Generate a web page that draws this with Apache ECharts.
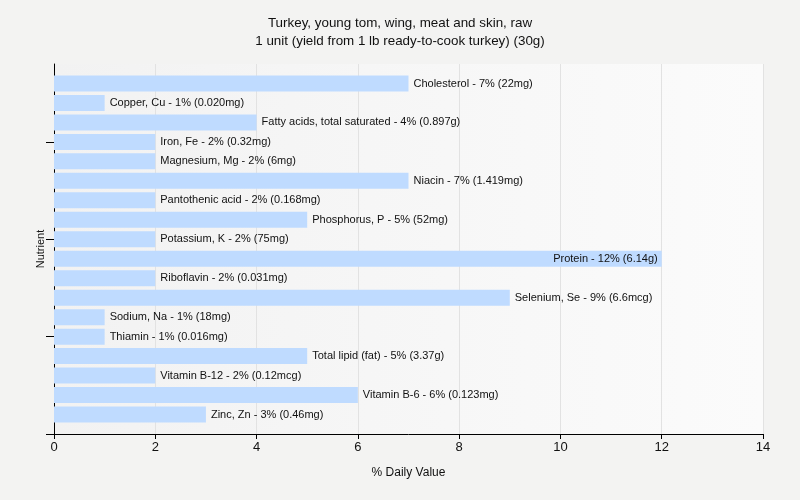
<!DOCTYPE html>
<html>
<head>
<meta charset="utf-8">
<script src="https://cdn.jsdelivr.net/npm/echarts@6/dist/echarts.min.js"></script>
<style>html,body{margin:0;padding:0;background:#F3F3F2;}#c{width:800px;height:500px;}</style>
</head>
<body>
<div id="c"></div>
<script>
const categories = ["Cholesterol","Copper, Cu","Fatty acids, total saturated","Iron, Fe","Magnesium, Mg","Niacin","Pantothenic acid","Phosphorus, P","Potassium, K","Protein","Riboflavin","Selenium, Se","Sodium, Na","Thiamin","Total lipid (fat)","Vitamin B-12","Vitamin B-6","Zinc, Zn"];
const values = [7,1,4,2,2,7,2,5,2,12,2,9,1,1,5,2,6,3];
const amounts = ["22mg","0.020mg","0.897g","0.32mg","6mg","1.419mg","0.168mg","52mg","75mg","6.14g","0.031mg","6.6mcg","18mg","0.016mg","3.37g","0.12mcg","0.123mg","0.46mg"];
const xTicks = [0,2,4,6,8,10,12,14];

const axisCats = [''].concat(categories, ['']);
const maxVal = Math.max(...values);
const seriesData = [null].concat(values.map((v)=>({
  value: v,
  label: v===maxVal ? {position:'insideRight', distance:4} : {}
})), [null]);

const chart = echarts.init(document.getElementById('c'));
const font = 'Liberation Sans, Arial, sans-serif';
chart.setOption({
  backgroundColor: '#F3F3F2',
  animation: false,
  title: {
    text: 'Turkey, young tom, wing, meat and skin, raw\n1 unit (yield from 1 lb ready-to-cook turkey) (30g)',
    left: 'center', top: 9,
    textStyle: {fontFamily: font, fontSize: 13.4, fontWeight: 'normal', color: '#111', lineHeight: 18}
  },
  grid: {
    left: 54, right: 37, top: 64, bottom: 66, show: true, borderWidth: 0,
    backgroundColor: {type:'linear', x:0, y:0, x2:1, y2:0, colorStops:[{offset:0,color:'#F2F2F2'},{offset:1,color:'#FBFBFB'}]}
  },
  xAxis: {
    type: 'value', min: xTicks[0], max: xTicks[xTicks.length-1], interval: 2,
    name: '% Daily Value', nameLocation: 'middle', nameGap: 33,
    nameTextStyle: {fontFamily: font, fontSize: 12, color: '#111'},
    axisLine: {show: true, lineStyle: {color: '#000', width: 1}},
    axisTick: {show: true, length: 5, lineStyle: {color: '#000'}},
    axisLabel: {fontFamily: font, fontSize: 13, color: '#111', margin: 7},
    splitLine: {show: true, lineStyle: {color: '#E2E2E2', width: 1}}
  },
  yAxis: {
    type: 'category', data: axisCats, inverse: true, boundaryGap: false,
    name: 'Nutrient', nameLocation: 'middle', nameGap: 8, nameRotate: 90,
    nameTextStyle: {fontFamily: font, fontSize: 11, color: '#111'},
    axisLine: {show: true, lineStyle: {color: '#000', width: 1}},
    axisTick: {show: true, length: 8, interval: function(i){ return (axisCats.length-1-i)%5===0; }, lineStyle: {color:'#000'}},
    axisLabel: {show: false},
    splitLine: {show: false}
  },
  series: [{
    type: 'bar',
    data: seriesData,
    barWidth: 16,
    itemStyle: {color: '#BFDBFF'},
    label: {
      show: true, position: 'right', distance: 5,
      fontFamily: font, fontSize: 11, color: '#111',
      formatter: function(p){ const i = p.dataIndex-1; return categories[i] + ' - ' + values[i] + '% (' + amounts[i] + ')'; }
    }
  }]
});
</script>
</body>
</html>
